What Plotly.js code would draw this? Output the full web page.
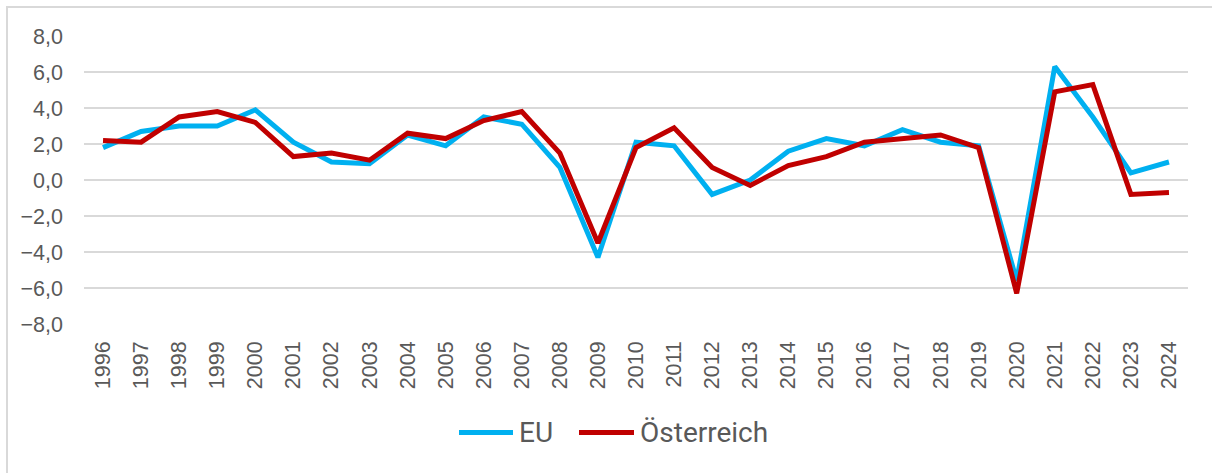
<!DOCTYPE html>
<html>
<head>
<meta charset="utf-8">
<script src="https://cdn.plot.ly/plotly-3.0.1.min.js"></script>
<style>
html,body{margin:0;padding:0;background:#fff;overflow:hidden;}
#wrap{position:relative;width:1212px;height:473px;}
#chart{width:1212px;height:473px;}
#frame{position:absolute;left:6px;top:6px;width:1300px;height:600px;border:2px solid #d9d9d9;pointer-events:none;}
</style>
</head>
<body>
<div id="wrap"><div id="chart"></div><div id="frame"></div></div>
<script>
const years = ["1996","1997","1998","1999","2000","2001","2002","2003","2004","2005","2006","2007","2008","2009","2010","2011","2012","2013","2014","2015","2016","2017","2018","2019","2020","2021","2022","2023","2024"];
const eu = [1.8,2.7,3.0,3.0,3.9,2.1,1.0,0.9,2.5,1.9,3.5,3.1,0.7,-4.3,2.1,1.9,-0.8,0.0,1.6,2.3,1.9,2.8,2.1,1.9,-5.6,6.3,3.5,0.4,1.0];
const austria = [2.2,2.1,3.5,3.8,3.2,1.3,1.5,1.1,2.6,2.3,3.3,3.8,1.5,-3.5,1.8,2.9,0.7,-0.3,0.8,1.3,2.1,2.3,2.5,1.8,-6.3,4.9,5.3,-0.8,-0.7];
const seriesNames = ["EU","Österreich"];
const seriesColors = ["#00B0F0","#C00000"];

const traces = [eu, austria].map((vals,i)=>({
  type:'scatter', mode:'lines', x:years, y:vals, name:seriesNames[i],
  line:{color:seriesColors[i], width:5}, showlegend:false, hoverinfo:'x+y'
}));

// custom legend (line sample + label)
const legendX = [[459,513],[579,634]];
const legendY = 432.5;
const W=1212,H=473;
const shapes = [], annotations = [];
seriesNames.forEach((n,i)=>{
  shapes.push({type:'line', xref:'paper', yref:'paper',
    x0:(legendX[i][0]-84)/1104, x1:(legendX[i][1]-84)/1104,
    y0:(324-legendY)/288, y1:(324-legendY)/288,
    line:{color:seriesColors[i], width:5}});
  annotations.push({xref:'paper', yref:'paper', x:(legendX[i][1]+4-84)/1104, y:(324-legendY)/288,
    xanchor:'left', yanchor:'middle', showarrow:false, text:n,
    font:{family:'Roboto, sans-serif', size:28, color:'#595959'}});
});

const tickFont = {family:'"Liberation Sans", Arial, sans-serif', size:21.5, color:'#595959'};
const layout = {
  width:W, height:H,
  margin:{l:84, r:24, t:36, b:149},
  paper_bgcolor:'rgba(0,0,0,0)', plot_bgcolor:'#fff',
  separators:',.',
  font:tickFont,
  xaxis:{type:'category', range:[-0.5, years.length-0.5], showgrid:false, zeroline:false, showline:false, ticks:'',
    tickangle:-90, ticklabelstandoff:12, tickfont:tickFont},
  yaxis:{range:[-8,8], dtick:2, tick0:0, tickformat:'.1f', showgrid:true, gridcolor:'#d9d9d9', gridwidth:2,
    zeroline:false, showline:false, ticks:'', ticklabelstandoff:20, tickfont:tickFont},
  shapes:shapes, annotations:annotations, showlegend:false
};
Plotly.newPlot('chart', traces, layout, {displayModeBar:false, staticPlot:true});
</script>
</body>
</html>
